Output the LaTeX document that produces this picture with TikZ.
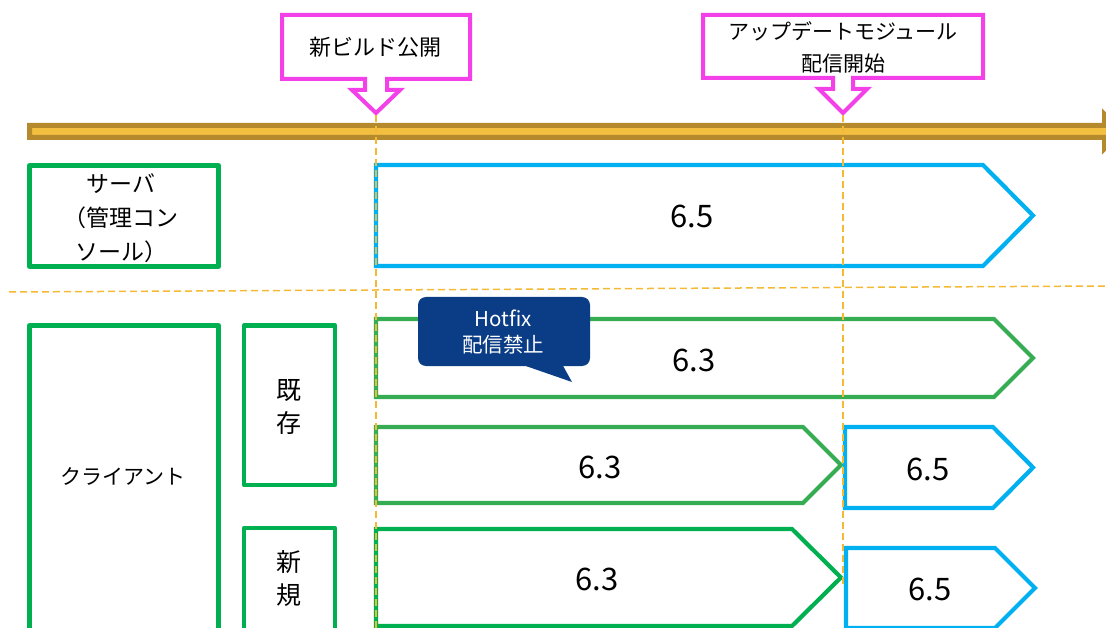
\documentclass[tikz,border=0pt]{standalone}
\usepackage{fontspec}
\setmainfont{Noto Sans CJK JP}
\definecolor{gold}{HTML}{B48A2C}
\definecolor{goldfill}{HTML}{F2BF41}
\definecolor{pink}{HTML}{F340E8}
\definecolor{boxgreen}{HTML}{00B050}
\definecolor{rowgreen}{HTML}{36AD52}
\definecolor{rowblue}{HTML}{00B0F0}
\definecolor{guide}{HTML}{F5B935}
\definecolor{tipblue}{HTML}{0B3D86}
\begin{document}
\begin{tikzpicture}[x=1pt,y=-1pt,
  lbox/.style={draw=boxgreen,line width=4.5pt,line join=round},
  timeline/.style={draw=gold,fill=goldfill,line width=5pt,line join=miter},
  marker/.style={draw=pink,fill=white,line width=4pt,line join=miter},
  chevg/.style={draw=rowgreen,line width=4.2pt,line join=miter},
  chevgd/.style={draw=boxgreen,line width=4.2pt,line join=miter},
  chevb/.style={draw=rowblue,line width=4.2pt,line join=miter},
  guideline/.style={draw=guide,line width=1.5pt,dash pattern=on 7pt off 4pt},
  lbl/.style={inner sep=0pt,text=black,align=center},
  num/.style={lbl,font=\fontsize{31}{36}\selectfont},
]
\useasboundingbox (0,0) rectangle (1106,628);
\clip (0,0) rectangle (1106,628);

% timeline arrow
\draw[timeline] (29.5,125.5) -- (1104.5,125.5) -- (1104.5,114.5) -- (1121.5,131.5)
  -- (1104.5,148.5) -- (1104.5,137.5) -- (29.5,137.5) -- cycle;

% callout markers
\draw[marker] (282,15) -- (470,15) -- (470,79) -- (387,79) -- (387,90) -- (400,90)
  -- (376,113) -- (352,90) -- (365,90) -- (365,79) -- (282,79) -- cycle;
\node[lbl,font=\fontsize{22}{30}\selectfont] (pub) at (375,47) {新ビルド公開};

\draw[marker] (703,15) -- (983,15) -- (983,78) -- (853,78) -- (853,89) -- (867,89)
  -- (843,113) -- (819,89) -- (833,89) -- (833,78) -- (703,78) -- cycle;
\node[lbl,font=\fontsize{21}{32}\selectfont] (upd) at (843,47) {アップデートモジュール\\配信開始};

% left boxes
\draw[lbox] (29.5,165.5) rectangle (218.5,266.5);
\node[lbl,font=\fontsize{23}{34}\selectfont] (srv) at (121,218) {サーバ\\（管理コン\\ソール）};
\draw[lbox] (29.5,325.5) rectangle (218.5,650);
\node[lbl,font=\fontsize{21}{30}\selectfont] (cli) at (123,476) {クライアント};
\draw[lbox] (244,325.5) rectangle (335,485);
\node[lbl,font=\fontsize{25}{33}\selectfont] (exist) at (289,407) {既\\存};
\draw[lbox] (244,528) rectangle (335,650);
\node[lbl,font=\fontsize{25}{33}\selectfont] (new) at (289,579) {新\\規};

% server row
\draw[chevb] (376,165) -- (983,165) -- (1033,215.5) -- (983,266) -- (376,266) -- cycle;
\node[num] (s65) at (692,216) {6.5};

% client existing row 1
\draw[chevg] (376,319) -- (994,319) -- (1033,358) -- (994,397) -- (376,397) -- cycle;
\node[num] (e63a) at (694,360) {6.3};

% client existing row 2
\draw[chevg] (376,427) -- (803,427) -- (841,465) -- (803,503) -- (376,503) -- cycle;
\node[num] (e63b) at (600,467) {6.3};
\draw[chevb] (845,427) -- (993,427) -- (1033,467.5) -- (993,508) -- (845,508) -- cycle;
\node[num] (e65) at (928,469) {6.5};

% client new row
\draw[chevgd] (376,529) -- (792,529) -- (841,577.5) -- (792,626) -- (376,626) -- cycle;
\node[num] (n63) at (597,579) {6.3};
\draw[chevb] (846,548) -- (995,548) -- (1035,588) -- (995,628) -- (846,628) -- cycle;
\node[num] (n65) at (930,589) {6.5};

% hotfix callout
\fill[tipblue,rounded corners=8pt] (418,297) rectangle (590,366);
\fill[tipblue] (520,364) -- (572,382) -- (562,364) -- cycle;
\node[lbl,text=white,font=\fontsize{20.5}{26}\selectfont] (hf) at (503,332) {Hotfix\\配信禁止};

% guides
\draw[guideline] (376,115) -- (376,628);
\draw[guideline] (843,115) -- (843,586);
\draw[guideline] (9,292) -- (1106,286);
\end{tikzpicture}
\end{document}
